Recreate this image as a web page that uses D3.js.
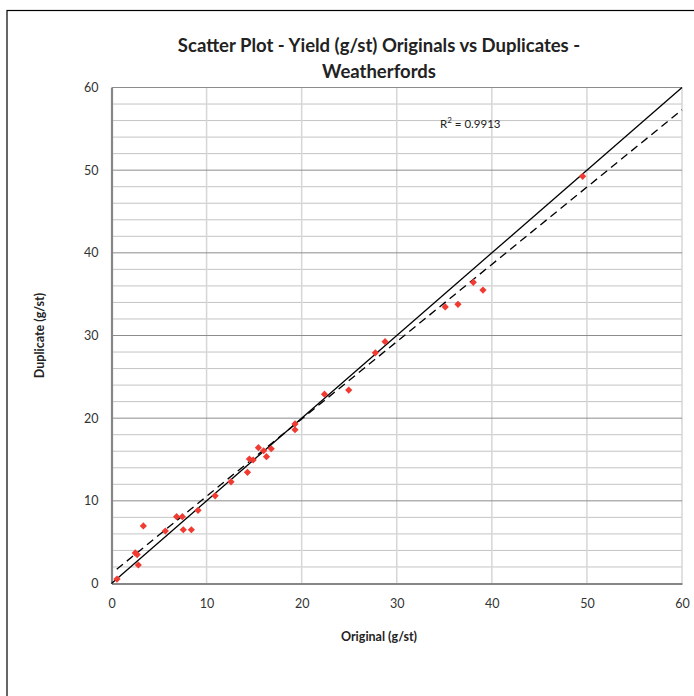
<!DOCTYPE html>
<html><head><meta charset="utf-8">
<script src="https://cdn.jsdelivr.net/npm/d3@7"></script>
<style>body{margin:0;background:#fff}svg{display:block}</style>
</head><body>
<script>
const original  = [0.58,2.5,2.7,2.82,3.35,5.66,6.85,7.45,7.55,8.4,9.1,10.9,12.57,14.3,14.5,14.9,15.45,16.0,16.3,16.8,19.3,19.3,22.4,24.95,27.75,28.77,35.1,36.44,38.05,39.07,49.55];
const duplicate = [0.54,3.7,3.5,2.24,6.96,6.35,8.08,8.08,6.5,6.5,8.85,10.6,12.3,13.45,15.06,14.94,16.43,16.06,15.34,16.3,19.3,18.6,22.9,23.4,27.9,29.25,33.45,33.77,36.43,35.5,49.26];
const xTicks = [0,10,20,30,40,50,60];
const yTicks = [0,10,20,30,40,50,60];
const yMinor = [2,4,6,8,12,14,16,18,22,24,26,28,32,34,36,38,42,44,46,48,52,54,56,58];
const trend = [0.935, 1.2]; // slope, intercept
const trendRange = [0.55, 60];
const titleLines = ["Scatter Plot - Yield (g/st) Originals vs Duplicates -", "Weatherfords"];
const rLabel = "0.9913";

const W=694,H=696;
const svg=d3.select("body").append("svg").attr("width",W).attr("height",H);
const font="Lato, 'Open Sans', sans-serif";
// outer frame
svg.append("rect").attr("x",7).attr("y",10.5).attr("width",800).attr("height",800)
  .attr("fill","none").attr("stroke","#000").attr("stroke-width",1.2);

const x=d3.scaleLinear().domain([0,60]).range([111.5,682]);
const y=d3.scaleLinear().domain([0,60]).range([583.5,87.5]);

const g=svg.append("g");
g.selectAll(".hm").data(yMinor).enter().append("line")
  .attr("x1",x(0)).attr("x2",x(60)).attr("y1",d=>y(d)).attr("y2",d=>y(d))
  .attr("stroke","#c4c4c4").attr("stroke-width",1);
g.selectAll(".vg").data(xTicks.slice(1)).enter().append("line")
  .attr("x1",d=>x(d)).attr("x2",d=>x(d)).attr("y1",y(0)).attr("y2",y(60))
  .attr("stroke","#d6d6d6").attr("stroke-width",1.5);
g.selectAll(".hM").data(yTicks.slice(1)).enter().append("line")
  .attr("x1",x(0)).attr("x2",x(60)).attr("y1",d=>y(d)).attr("y2",d=>y(d))
  .attr("stroke","#8c8c8c").attr("stroke-width",1);

const xAxis=svg.append("g").attr("transform",`translate(0,${y(0)})`)
  .call(d3.axisBottom(x).tickValues(xTicks).tickSize(0).tickPadding(16));
const yAxis=svg.append("g").attr("transform",`translate(${x(0)},0)`)
  .call(d3.axisLeft(y).tickValues(yTicks).tickSize(0).tickPadding(13));
[xAxis,yAxis].forEach(a=>{
  a.select(".domain").attr("stroke","#868686").attr("stroke-width",2.2);
  a.selectAll("text").attr("font-family",font).attr("font-size",12.5).attr("fill","#333");
});

svg.append("line").attr("x1",x(0)).attr("y1",y(0)).attr("x2",x(60)).attr("y2",y(60))
  .attr("stroke","#000").attr("stroke-width",1.3);
svg.append("line")
  .attr("x1",x(trendRange[0])).attr("y1",y(trend[0]*trendRange[0]+trend[1]))
  .attr("x2",x(trendRange[1])).attr("y2",y(trend[0]*trendRange[1]+trend[1]))
  .attr("stroke","#000").attr("stroke-width",1.3).attr("stroke-dasharray","8,5");

const pts=original.map((v,i)=>[v,duplicate[i]]);
svg.selectAll(".pt").data(pts).enter().append("path")
  .attr("d",d3.symbol().type(d3.symbolSquare).size(26))
  .attr("transform",d=>`translate(${x(d[0])},${y(d[1])}) rotate(45)`)
  .attr("fill","#f03a32");

const rt=svg.append("text").attr("x",440).attr("y",128).attr("font-family",font)
  .attr("font-size",11.5).attr("fill","#222");
rt.append("tspan").text("R");
rt.append("tspan").attr("dy",-5).attr("font-size",8).text("2");
rt.append("tspan").attr("dy",5).text(" = "+rLabel);

const tt=svg.append("text").attr("text-anchor","middle").attr("font-family",font)
  .attr("font-weight","bold").attr("font-size",18.5).attr("fill","#222");
titleLines.forEach((l,i)=>tt.append("tspan").attr("x",379).attr("y",52+i*26).text(l));

svg.append("text").attr("x",379).attr("y",641).attr("text-anchor","middle")
  .attr("font-family",font).attr("font-weight","bold").attr("font-size",12.5).attr("fill","#222")
  .text("Original (g/st)");
svg.append("text").attr("transform",`translate(44,${(y(0)+y(60))/2}) rotate(-90)`)
  .attr("text-anchor","middle").attr("font-family",font).attr("font-weight","bold")
  .attr("font-size",12.5).attr("fill","#222").text("Duplicate (g/st)");
</script>
</body></html>
